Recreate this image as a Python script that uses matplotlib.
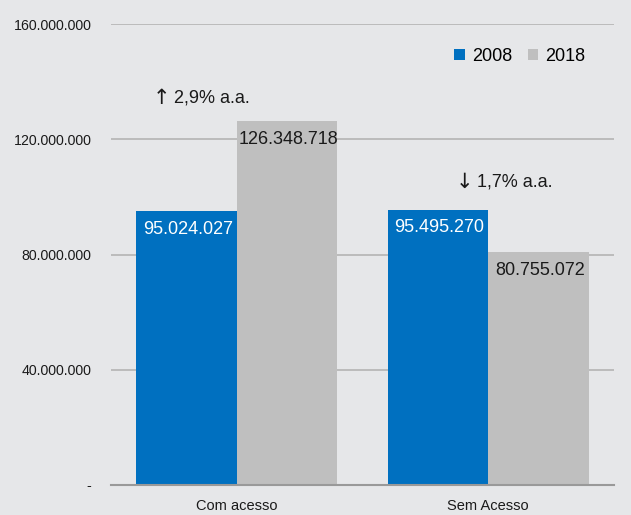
import matplotlib
matplotlib.use("Agg")
import matplotlib.pyplot as plt
import numpy as np
from matplotlib.ticker import FuncFormatter

plt.rcParams['font.family'] = ['Liberation Sans Narrow', 'Liberation Sans', 'DejaVu Sans']

# Dados
categorias = ["Com acesso", "Sem Acesso"]
anos = ["2008", "2018"]
valores_2008 = [95024027, 95495270]
valores_2018 = [126348718, 80755072]
setas = ["\u2191", "\u2193"]
variacoes = ["2,9% a.a.", "1,7% a.a."]
yticks = [0, 40000000, 80000000, 120000000, 160000000]

azul = "#0070c0"
cinza = "#bfbfbf"
fundo = "#e6e7e9"
texto = "#1a1a1a"

def fmt_milhar(v):
    return f"{int(v):,}".replace(",", ".")

fig = plt.figure(figsize=(6.31, 5.15), dpi=100, facecolor=fundo)
ax = fig.add_axes([111 / 631, 1 - 485 / 515, 503 / 631, 461 / 515])
ax.set_facecolor(fundo)

x = np.arange(len(categorias))
w = 0.4
b1 = ax.bar(x - w / 2, valores_2008, w, color=azul, label=anos[0], zorder=3)
b2 = ax.bar(x + w / 2, valores_2018, w, color=cinza, label=anos[1], zorder=3)

# rótulos dos valores no topo de cada barra
for r, v in zip(b1, valores_2008):
    ax.annotate(fmt_milhar(v), (r.get_x() + r.get_width() / 2, v), xytext=(1, -13),
                textcoords="offset points", ha="center", va="center",
                color="white", fontsize=13, zorder=4)
for r, v in zip(b2, valores_2018):
    ax.annotate(fmt_milhar(v), (r.get_x() + r.get_width() / 2, v), xytext=(1, -13),
                textcoords="offset points", ha="center", va="center",
                color=texto, fontsize=13, zorder=4)

# variação anual acima de cada grupo
desloc = [(-18, 16.5), (19, 20)]  # (dx, dy) em pontos a partir do centro do grupo
for i in range(len(categorias)):
    topo = max(valores_2008[i], valores_2018[i])
    dx, dy = desloc[i]
    ax.annotate(setas[i], (x[i], topo), xytext=(dx - 36, dy), textcoords="offset points",
                ha="center", va="center", fontsize=15, color=texto, family="DejaVu Sans")
    ax.annotate(variacoes[i], (x[i], topo), xytext=(dx, dy), textcoords="offset points",
                ha="center", va="center", fontsize=13, color=texto)

ax.set_xlim(-0.5, 1.5)
ax.set_ylim(0, 160000000)
ax.set_yticks(yticks)
ax.yaxis.set_major_formatter(FuncFormatter(lambda v, p: "-" if v == 0 else fmt_milhar(v)))
ax.set_xticks(x)
ax.set_xticklabels(categorias, fontsize=10.5)
ax.tick_params(axis="both", length=0, colors=texto)
ax.tick_params(axis="y", labelsize=10.2, pad=14)
ax.tick_params(axis="x", pad=10)

ax.grid(axis="y", color="#b4b4b4", linewidth=1.2, zorder=0)
for s in ["top", "right", "left"]:
    ax.spines[s].set_visible(False)
ax.spines["bottom"].set_color("#999999")
ax.spines["bottom"].set_linewidth(1.5)
ax.spines["bottom"].set_zorder(5)

ax.legend(loc="upper right", bbox_to_anchor=(0.975, 0.983), ncol=2, frameon=False,
          fontsize=13, handlelength=0.57, handleheight=0.57, handletextpad=0.4,
          columnspacing=0.85)

fig.savefig("out.png", dpi=100, facecolor=fundo)
